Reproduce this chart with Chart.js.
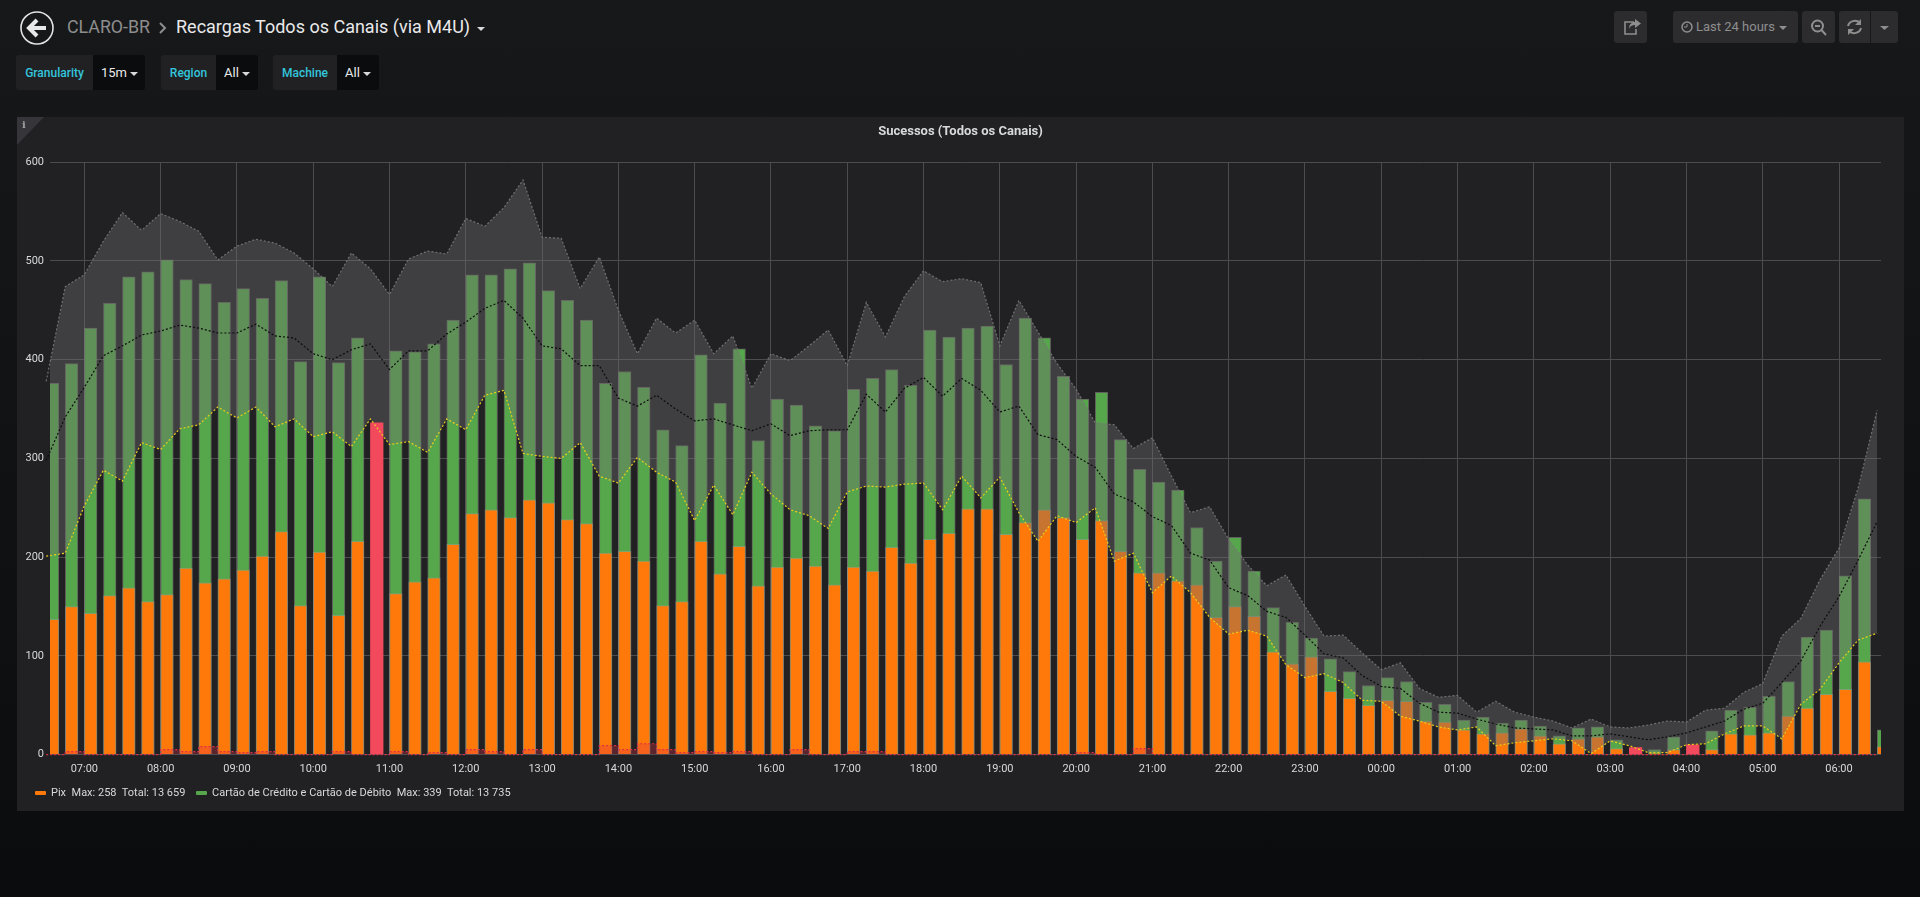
<!DOCTYPE html>
<html>
<head>
<meta charset="utf-8">
<title>Recargas Todos os Canais (via M4U)</title>
<script src="https://cdn.jsdelivr.net/npm/chart.js@4"></script>
<style>
  html, body { margin: 0; width: 1920px; height: 897px; overflow: hidden; }
  body { position: relative; background: linear-gradient(#17181a, #0b0c0e); font-family: Roboto, sans-serif; color: #d8d9da; }
  .abs { position: absolute; white-space: nowrap; }
  .nav { font-size: 18px; line-height: 28px; top: 13px; }
  .var { top: 55px; height: 35px; line-height: 36px; font-size: 13px; box-sizing: border-box; }
  .var-label { background: #212124; color: #33c5dc; font-weight: 500; font-size: 12px; border-radius: 3px 0 0 3px; text-align: center; }
  .var-value { background: #0b0c0e; color: #e9e9ea; border-radius: 0 3px 3px 0; padding-left: 8px; }
  .caret { display: inline-block; width: 0; height: 0; border-left: 4px solid transparent; border-right: 4px solid transparent; border-top: 4px solid #d8d9da; vertical-align: middle; margin-left: 3px; }
  .btn { top: 11px; height: 32px; background: #2c2c2f; border-radius: 3px; color: #8e8e8e; font-size: 13px; line-height: 32px; }
  .btn svg { position: absolute; left: 0; top: 0; }
  #panel { left: 17px; top: 117px; width: 1887px; height: 694px; background: #212124; }
  #corner { left: 0; top: 0; width: 0; height: 0; border-top: 28px solid #35353a; border-right: 27px solid transparent; }
  #info { left: 5px; top: 2px; font: bold 10px "DejaVu Serif", serif; color: #a0a0a0; }
  #panel-title { left: 0; width: 100%; top: 6px; text-align: center; font-size: 13px; font-weight: 700; line-height: 16px; color: #d8d9da; }
  #chart-wrap { left: 0; top: 0; width: 1887px; height: 694px; }
  #legend { left: 18px; top: 669px; font-size: 11px; line-height: 14px; color: #d8d9da; }
  #legend .swatch { display: inline-block; width: 11px; height: 4px; border-radius: 1px; vertical-align: middle; margin-right: 5px; }
  #legend span.item { margin-right: 8px; }
</style>
</head>
<body>
<svg class="abs" style="left:19px;top:10px" width="36" height="36" viewBox="0 0 36 36">
  <circle cx="18" cy="18" r="16" fill="none" stroke="#e3e3e3" stroke-width="1.6"/>
  <path d="M18 10 L10 18 L18 26 M11 18 H27" fill="none" stroke="#e8e8e8" stroke-width="4"/>
</svg>
<div class="abs nav" style="left:67px;color:#8e8e8e;font-size:17.8px">CLARO-BR</div>
<svg class="abs" style="left:157px;top:20px" width="12" height="16"><path d="M3 3 L8 8 L3 13" fill="none" stroke="#8e8e8e" stroke-width="2"/></svg>
<div class="abs nav" style="left:176px;color:#e9e9ea">Recargas Todos os Canais (via M4U)</div>
<div class="abs" style="left:477px;top:18px"><span class="caret" style="margin:0"></span></div>

<div class="abs var var-label" style="left:16px;width:77px">Granularity</div>
<div class="abs var var-value" style="left:93px;width:52px">15m<span class="caret"></span></div>
<div class="abs var var-label" style="left:161px;width:55px">Region</div>
<div class="abs var var-value" style="left:216px;width:42px">All<span class="caret"></span></div>
<div class="abs var var-label" style="left:273px;width:64px">Machine</div>
<div class="abs var var-value" style="left:337px;width:42px">All<span class="caret"></span></div>

<div class="abs btn" style="left:1614px;width:33px">
  <svg width="33" height="32"><path d="M20 11 H11 V23 H22 V18" fill="none" stroke="#8e8e8e" stroke-width="1.6"/><path d="M15 18 C15 13 18 11 21 11 V8 L27 12.5 L21 17 V14 C18 14 16 15 15 18Z" fill="#8e8e8e"/></svg>
</div>
<div class="abs btn" style="left:1673px;width:125px;padding-left:23px;box-sizing:border-box">
  <svg width="24" height="32"><circle cx="14" cy="16" r="5" fill="none" stroke="#8e8e8e" stroke-width="1.5"/><path d="M14 13 V16 H11" fill="none" stroke="#8e8e8e"/></svg>
  Last 24 hours<span class="caret" style="border-top-color:#8e8e8e;margin-left:4px"></span>
</div>
<div class="abs btn" style="left:1802px;width:33px">
  <svg width="33" height="32"><circle cx="15.5" cy="15" r="5.5" fill="none" stroke="#8e8e8e" stroke-width="2"/><path d="M13 15 H18 M19.5 19 L24 24" stroke="#8e8e8e" stroke-width="2"/></svg>
</div>
<div class="abs btn" style="left:1839px;width:31px;border-radius:3px 0 0 3px">
  <svg width="31" height="32"><path d="M9 15 A7 6.5 0 0 1 21 12 M22 17 A7 6.5 0 0 1 10 20" fill="none" stroke="#8e8e8e" stroke-width="2"/><path d="M22 8 V14 H16Z M9 24 V18 H15Z" fill="#8e8e8e"/></svg>
</div>
<div class="abs btn" style="left:1871px;width:27px;border-radius:0 3px 3px 0">
  <svg width="27" height="32"><path d="M9 15 H18 L13.5 19Z" fill="#8e8e8e"/></svg>
</div>

<div class="abs" id="panel">
  <div class="abs" id="chart-wrap"><canvas id="chart" width="1887" height="694"></canvas></div>
  <div class="abs" id="corner"></div>
  <div class="abs" id="info">i</div>
  <div class="abs" id="panel-title">Sucessos (Todos os Canais)</div>
  <div class="abs" id="legend">
    <span class="item"><span class="swatch" style="background:#ff780a"></span>Pix&nbsp; Max: 258&nbsp; Total: 13 659</span>
    <span class="item"><span class="swatch" style="background:#56a64b"></span>Cartão de Crédito e Cartão de Débito&nbsp; Max: 339&nbsp; Total: 13 735</span>
  </div>
</div>

<script>
// minutes relative to 07:00, one slot every 15m
const slots = [-30, -15, 0, 15, 30, 45, 60, 75, 90, 105, 120, 135, 150, 165, 180, 195, 210, 225, 240, 255, 270, 285, 300, 315, 330, 345, 360, 375, 390, 405, 420, 435, 450, 465, 480, 495, 510, 525, 540, 555, 570, 585, 600, 615, 630, 645, 660, 675, 690, 705, 720, 735, 750, 765, 780, 795, 810, 825, 840, 855, 870, 885, 900, 915, 930, 945, 960, 975, 990, 1005, 1020, 1035, 1050, 1065, 1080, 1095, 1110, 1125, 1140, 1155, 1170, 1185, 1200, 1215, 1230, 1245, 1260, 1275, 1290, 1305, 1320, 1335, 1350, 1365, 1380, 1395, 1410];

const hourTicks = [0, 60, 120, 180, 240, 300, 360, 420, 480, 540, 600, 660, 720, 780, 840, 900, 960, 1020, 1080, 1140, 1200, 1260, 1320, 1380];
const hourLabels = ["07:00", "08:00", "09:00", "10:00", "11:00", "12:00", "13:00", "14:00", "15:00", "16:00", "17:00", "18:00", "19:00", "20:00", "21:00", "22:00", "23:00", "00:00", "01:00", "02:00", "03:00", "04:00", "05:00", "06:00"];

const pix = [137, 150, 143, 161, 169, 155, 162, 189, 174, 178, 187, 201, 226, 151, 205, 141, 216, null, 163, 175, 179, 213, 244, 248, 240, 258, 255, 238, 234, 204, 206, 196, 151, 155, 216, 183, 211, 171, 190, 199, 191, 172, 190, 186, 210, 194, 218, 224, 249, 249, 223, 235, 248, 240, 218, 237, 206, 184, 184, 176, 172, 139, 150, 140, 104, 92, 99, 64, 57, 50, 55, 54, 34, 33, 25, 21, 22, 26, 19, 11, 16, 18, 6, null, 1, 5, null, 5, 21, 20, 22, 39, 47, 61, 66, 94, 8];

const card = [376, 396, 432, 457, 484, 489, 501, 481, 477, 458, 472, 462, 480, 398, 484, 397, 422, null, 409, 408, 416, 440, 486, 486, 492, 498, 470, 460, 440, 376, 388, 372, 329, 313, 405, 356, 411, 318, 360, 354, 333, 328, 370, 381, 390, 374, 430, 423, 432, 434, 395, 442, 422, 383, 360, 367, 319, 289, 276, 268, 230, 196, 220, 186, 149, 134, 118, 97, 84, 70, 78, 74, 53, 51, 35, 38, 32, 35, 29, 19, 27, 28, 15, null, 5, 18, null, 24, 45, 48, 59, 74, 119, 126, 181, 259, 25];

// slots where the bar turned red
const critical = [null, null, null, null, null, null, null, null, null, null, null, null, null, null, null, null, null, 336, null, null, null, null, null, null, null, null, null, null, null, null, null, null, null, null, null, null, null, null, null, null, null, null, null, null, null, null, null, null, null, null, null, null, null, null, null, null, null, null, null, null, null, null, null, null, null, null, null, null, null, null, null, null, null, null, null, null, null, null, null, null, null, null, null, 7, null, null, 10, null, null, null, null, null, null, null, null, null, null];

const upperBound = [378, 474, 486, 520, 549, 531, 548, 540, 530, 501, 515, 522, 518, 508, 492, 474, 508, 492, 466, 502, 510, 507, 543, 535, 554, 582, 524, 523, 472, 504, 450, 406, 442, 427, 440, 406, 424, 371, 406, 399, 414, 430, 394, 458, 423, 464, 490, 479, 482, 478, 414, 460, 428, 396, 370, 336, 334, 310, 321, 282, 245, 251, 218, 192, 171, 182, 150, 120, 121, 103, 86, 93, 67, 58, 60, 43, 54, 43, 38, 34, 27, 36, 28, 27, 30, 34, 33, 45, 47, 63, 72, 120, 138, 177, 209, 270, 349];

const lowerBound = [201, 204, 252, 288, 277, 316, 309, 330, 334, 352, 341, 352, 332, 340, 322, 327, 312, 340, 314, 317, 306, 340, 329, 364, 369, 305, 302, 300, 316, 282, 275, 301, 286, 276, 237, 273, 243, 286, 264, 248, 242, 229, 266, 272, 271, 274, 275, 248, 282, 260, 281, 245, 216, 242, 235, 250, 196, 204, 164, 181, 164, 139, 122, 126, 120, 91, 78, 82, 73, 55, 54, 39, 34, 28, 25, 28, 9, 12, 14, 16, 14, 1, 14, 9, 2, 2, 10, 11, 21, 29, 29, 16, 51, 66, 93, 116, 123];

const meanLine = [298, 342, 372, 404, 414, 425, 429, 435, 432, 427, 427, 436, 424, 422, 406, 400, 410, 416, 390, 409, 409, 426, 438, 452, 460, 442, 414, 411, 394, 394, 361, 353, 364, 350, 338, 340, 334, 328, 335, 323, 328, 329, 329, 365, 347, 371, 382, 363, 381, 369, 347, 353, 324, 319, 302, 291, 264, 256, 241, 232, 204, 197, 169, 161, 145, 139, 121, 102, 98, 80, 69, 67, 52, 43, 42, 36, 31, 27, 26, 25, 19, 19, 21, 18, 15, 18, 22, 28, 34, 46, 52, 73, 95, 130, 160, 197, 236];

const failures = [0, 0, 3, 0, 0, 0, 0, 5, 3, 8, 3, 2, 3, 0, 0, 0, 3, 0, 0, 3, 0, 2, 0, 5, 3, 0, 5, 0, 0, 0, 9, 5, 11, 5, 2, 3, 2, 3, 0, 0, 5, 0, 0, 3, 3, 0, 0, 0, 0, 0, 0, 0, 0, 0, 0, 2, 0, 0, 6, 0, 0, 0, 0, 0, 0, 0, 0, 0, 0, 0, 0, 0, 0, 0, 0, 0, 0, 0, 0, 0, 0, 0, 0, 0, 0, 0, 0, 0, 0, 0, 0, 0, 0, 0, 0, 0, 0];

const barWidth = 12.6;
// bars start at their timestamp, so shift the centre by half a bar (in minutes)
const barShift = 5;
// the lines run a little past the plot on the left, the bars do not
const lineClip = { left: 5, right: 0, top: 0, bottom: 3 };

const barPoints = (values) => values.map((y, i) => ({ x: slots[i] + barShift, y }));
const linePoints = (values) => values.map((y, i) => ({ x: slots[i], y }));

const barSet = (label, values, color, order, edge) => ({
  type: "bar",
  label,
  data: barPoints(values),
  backgroundColor: color,
  borderColor: edge,
  borderWidth: edge ? 1 : 0,
  borderSkipped: "bottom",
  barThickness: barWidth,
  grouped: false,
  order,
});

const dottedLine = (label, values, color, order, extra) => ({
  type: "line",
  label,
  data: linePoints(values),
  borderColor: color,
  borderWidth: 1.2,
  borderDash: [2, 2],
  pointRadius: 0,
  tension: 0,
  fill: false,
  clip: lineClip,
  order,
  ...extra,
});

new Chart(document.querySelector("#chart"), {
  type: "bar",
  data: {
    datasets: [
      barSet("Cartão de Crédito e Cartão de Débito", card, "#56a64b", 7, "rgba(160,160,150,0.5)"),
      barSet("Pix", pix, "#ff780a", 6, "rgba(160,160,150,0.5)"),
      dottedLine("Failures", failures, "#e02f44", 5, {
        stepped: "after",
        fill: "origin",
        backgroundColor: "rgba(224,47,68,0.3)",
      }),
      dottedLine("Upper", upperBound, "rgba(120,120,120,0.9)", 4, {
        fill: { target: 4 },
        backgroundColor: "rgba(110,110,110,0.39)",
      }),
      dottedLine("Lower", lowerBound, "#e8cf1c", 2),
      dottedLine("Mean", meanLine, "#0c0c0c", 1),
      barSet("Critical", critical, "#f2495c", 3),
    ],
  },
  options: {
    responsive: false,
    animation: false,
    layout: { padding: { left: 0, right: 23, top: 45.2, bottom: 26.4 } },
    plugins: { legend: { display: false }, title: { display: false }, tooltip: { enabled: false } },
    scales: {
      x: {
        type: "linear",
        offset: false,
        min: -27,
        max: 1413,
        afterBuildTicks: (scale) => {
          scale.ticks = hourTicks.map((value) => ({ value }));
        },
        afterFit: (scale) => {
          scale.height = 30;
        },
        border: { display: false },
        grid: { color: "#4c4c4f", lineWidth: 1, drawTicks: false, offset: false },
        ticks: {
          autoSkip: false,
          maxRotation: 0,
          padding: 8,
          color: "#d8d9da",
          font: { family: "Roboto", size: 11 },
          callback: (value) => hourLabels[hourTicks.indexOf(value)],
        },
      },
      y: {
        min: 0,
        max: 600,
        afterFit: (scale) => {
          scale.width = 33;
        },
        border: { display: false },
        grid: { color: "#4c4c4f", lineWidth: 1, drawTicks: false },
        ticks: {
          stepSize: 100,
          padding: 6,
          color: "#d8d9da",
          font: { family: "Roboto", size: 11 },
        },
      },
    },
  },
});
</script>
</body>
</html>
